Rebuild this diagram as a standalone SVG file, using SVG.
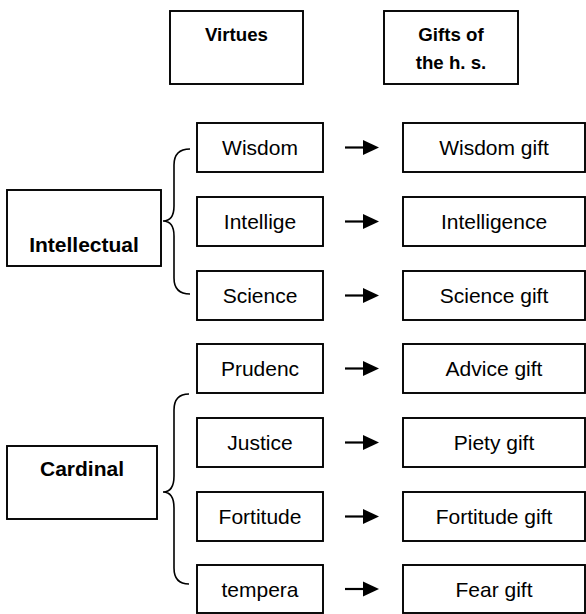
<svg xmlns="http://www.w3.org/2000/svg" width="586" height="614" viewBox="0 0 586 614">
<style>
.box{fill:#fff;stroke:#000;stroke-width:1.9}
.t{font-family:"Liberation Sans",Arial,sans-serif;font-size:21px;fill:#000;text-anchor:middle}
.b{font-weight:bold}
.h{font-size:18.7px}
.brace{fill:none;stroke:#000;stroke-width:1.6}
.arr{stroke:#000;stroke-width:2.2}
.head{fill:#000}
</style>
<rect width="586" height="614" fill="#fff"/>
<g id="hdr-virtues"><rect class="box" x="170" y="11" width="133" height="73"/><text class="t b h" x="236.5" y="41">Virtues</text></g>
<g id="hdr-gifts"><rect class="box" x="384" y="11" width="134" height="73"/><text class="t b h" x="451" y="41">Gifts of</text><text class="t b h" x="451" y="69">the h. s.</text></g>
<g id="intellectual"><rect class="box" x="7" y="190" width="154" height="76"/><text class="t b" x="84" y="252">Intellectual</text></g>
<g id="cardinal"><rect class="box" x="7" y="446" width="150" height="73"/><text class="t b" x="82" y="476">Cardinal</text></g>
<g id="v-wisdom"><rect class="box" x="197" y="123" width="126" height="49"/><text class="t" x="260" y="155">Wisdom</text></g>
<g id="v-intellige"><rect class="box" x="197" y="197" width="126" height="49"/><text class="t" x="260" y="229">Intellige</text></g>
<g id="v-science"><rect class="box" x="197" y="271" width="126" height="49"/><text class="t" x="260" y="303">Science</text></g>
<g id="v-prudenc"><rect class="box" x="197" y="344" width="126" height="49"/><text class="t" x="260" y="376">Prudenc</text></g>
<g id="v-justice"><rect class="box" x="197" y="418" width="126" height="49"/><text class="t" x="260" y="450">Justice</text></g>
<g id="v-fortitude"><rect class="box" x="197" y="492" width="126" height="49"/><text class="t" x="260" y="524">Fortitude</text></g>
<g id="v-tempera"><rect class="box" x="197" y="565" width="126" height="48"/><text class="t" x="260" y="597">tempera</text></g>
<g id="g-wisdom"><rect class="box" x="403" y="123" width="182" height="49"/><text class="t" x="494" y="155">Wisdom gift</text></g>
<g id="g-intelligence"><rect class="box" x="403" y="197" width="182" height="49"/><text class="t" x="494" y="229">Intelligence</text></g>
<g id="g-science"><rect class="box" x="403" y="271" width="182" height="49"/><text class="t" x="494" y="303">Science gift</text></g>
<g id="g-advice"><rect class="box" x="403" y="344" width="182" height="49"/><text class="t" x="494" y="376">Advice gift</text></g>
<g id="g-piety"><rect class="box" x="403" y="418" width="182" height="49"/><text class="t" x="494" y="450">Piety gift</text></g>
<g id="g-fortitude"><rect class="box" x="403" y="492" width="182" height="49"/><text class="t" x="494" y="524">Fortitude gift</text></g>
<g id="g-fear"><rect class="box" x="403" y="565" width="182" height="48"/><text class="t" x="494" y="597">Fear gift</text></g>
<g id="connectors">
<path class="brace" d="M190,149 Q174,149 174,165 L174,206 Q174,221 163,221 Q174,221 174,236 L174,278 Q174,294 190,294"/>
<path class="brace" d="M189,394 Q174,394 174,410 L174,476 Q174,492 163,492 Q174,492 174,508 L174,568 Q174,584 189,584"/>
<g>
<line class="arr" x1="345" y1="147.5" x2="365" y2="147.5"/><polygon class="head" points="363,140 379,147.5 363,155"/>
<line class="arr" x1="345" y1="221.5" x2="365" y2="221.5"/><polygon class="head" points="363,214 379,221.5 363,229"/>
<line class="arr" x1="345" y1="295.5" x2="365" y2="295.5"/><polygon class="head" points="363,288 379,295.5 363,303"/>
<line class="arr" x1="345" y1="368.5" x2="365" y2="368.5"/><polygon class="head" points="363,361 379,368.5 363,376"/>
<line class="arr" x1="345" y1="442.5" x2="365" y2="442.5"/><polygon class="head" points="363,435 379,442.5 363,450"/>
<line class="arr" x1="345" y1="516.5" x2="365" y2="516.5"/><polygon class="head" points="363,509 379,516.5 363,524"/>
<line class="arr" x1="345" y1="589" x2="365" y2="589"/><polygon class="head" points="363,581.5 379,589 363,596.5"/>
</g>
</g>
</svg>
